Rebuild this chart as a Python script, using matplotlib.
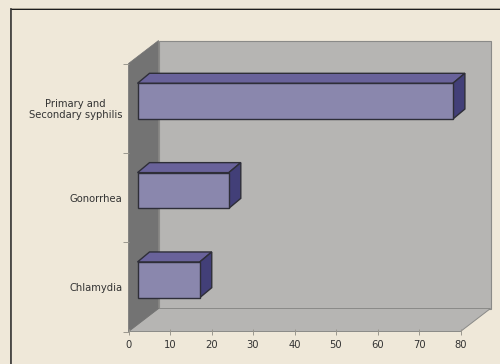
import matplotlib
matplotlib.use("Agg")
import matplotlib.pyplot as plt
from matplotlib.lines import Line2D
from matplotlib.patches import Polygon
from matplotlib.transforms import IdentityTransform

categories = ["Chlamydia", "Gonorrhea", "Primary and\nSecondary syphilis"]
values = [15, 22, 76]
x_ticks = [0, 10, 20, 30, 40, 50, 60, 70, 80]

W, H = 500, 364
BG = "#EFE8D9"
WALL = "#B6B5B3"
SIDE_WALL = "#737373"
WALL_EDGE = "#8A8A88"
BAR_FRONT = "#8A87AD"
BAR_TOP = "#69629A"
BAR_SIDE = "#423F78"
BAR_EDGE = "#2E2E38"
TEXT = "#333333"
TICK = "#9A978E"
BAR_HEIGHT = 0.4

fig = plt.figure(figsize=(W / 100, H / 100), dpi=100, facecolor=BG)

# Outer frame, open to the right and bottom
frame = [
    ((10, 8.2), (500, 8.2), "#A8A294", 1.0),
    ((10, 9.4), (500, 9.4), "#1E1E1E", 1.0),
    ((10.2, 8), (10.2, 364), "#A8A294", 1.0),
    ((11.4, 9), (11.4, 364), "#333333", 1.6),
]
for (xa, ya), (xb, yb), col, lw in frame:
    fig.add_artist(Line2D([xa / W, xb / W], [1 - ya / H, 1 - yb / H], color=col,
                          lw=lw * 0.72, transform=fig.transFigure))

# The axes rectangle is the front plane of the 3D box
left, right, top, bottom = 128.5, 460.5, 63.5, 331.5
ax = fig.add_axes([left / W, 1 - bottom / H, (right - left) / W, (bottom - top) / H])
ax.set_xlim(0, 80)
ax.set_ylim(0, 3)
ax.patch.set_alpha(0)
for s in ax.spines.values():
    s.set_visible(False)


def face(pts, fc, ec, lw, z):
    # Screen-space polygon for one face of the extruded box
    ax.add_patch(Polygon(pts, closed=True, fc=fc, ec=ec, lw=lw, zorder=z, clip_on=False,
                         transform=IdentityTransform(), joinstyle="miter"))


DEPTH = (30, 23)
x0, y0 = ax.transData.transform((0, 0))
x1, y3 = ax.transData.transform((80, 3))
dx, dy = DEPTH

# Back wall, floor and side wall
face([(x0 + dx, y0 + dy), (x1 + dx, y0 + dy), (x1 + dx, y3 + dy), (x0 + dx, y3 + dy)],
     WALL, WALL_EDGE, 0.8, 1)
face([(x0, y0), (x1, y0), (x1 + dx, y0 + dy), (x0 + dx, y0 + dy)], WALL, WALL_EDGE, 0.7, 1.2)
face([(x0, y0), (x0 + dx, y0 + dy), (x0 + dx, y3 + dy), (x0, y3)], SIDE_WALL, SIDE_WALL, 0.5, 1.3)

# Bars are extruded boxes sitting inside the depth of the chart
BAR_OFFSET = (9, 7)
BAR_DEPTH = (12, 10)
bx, by = BAR_DEPTH
for i, v in enumerate(values):
    lo, hi = i + 0.5 - BAR_HEIGHT / 2, i + 0.5 + BAR_HEIGHT / 2
    ax_l, ax_b = ax.transData.transform((0, lo))
    ax_r, ax_t = ax.transData.transform((v, hi))
    l, b = ax_l + BAR_OFFSET[0], ax_b + BAR_OFFSET[1]
    r, t = ax_r + BAR_OFFSET[0], ax_t + BAR_OFFSET[1]
    face([(l, t), (r, t), (r + bx, t + by), (l + bx, t + by)], BAR_TOP, BAR_EDGE, 1.0, 3)
    face([(r, b), (r + bx, b + by), (r + bx, t + by), (r, t)], BAR_SIDE, BAR_EDGE, 1.0, 3)
    face([(l, b), (r, b), (r, t), (l, t)], BAR_FRONT, BAR_EDGE, 1.0, 3)

ax.set_xticks(x_ticks)
ax.set_xticklabels([str(t) for t in x_ticks])
ax.set_yticks([0, 1, 2, 3])
ax.set_yticklabels([])
ax.set_yticks([0.5, 1.5, 2.5], minor=True)
ax.set_yticklabels(categories, minor=True, ha="right", multialignment="center", linespacing=1.1)
ax.tick_params(axis="y", which="minor", length=0, pad=4.5, labelsize=7.2, labelcolor=TEXT)
ax.tick_params(axis="y", which="major", length=4, width=0.7, color=TICK)
ax.tick_params(axis="x", which="major", direction="inout", length=5, width=0.7, color=TICK,
               pad=3.6, labelsize=7.2, labelcolor=TEXT)

fig.savefig("out.png", dpi=100, facecolor=BG)
